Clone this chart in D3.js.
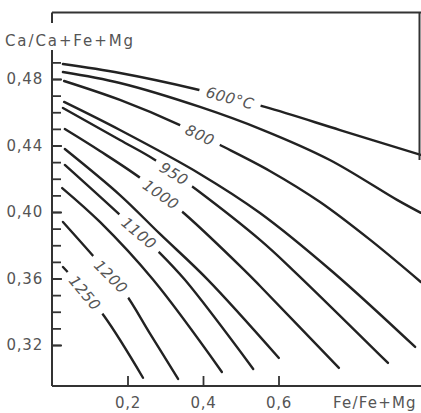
<!DOCTYPE html>
<html>
<head>
<meta charset="utf-8">
<script src="https://cdn.jsdelivr.net/npm/d3@7"></script>
<style>
  html, body { margin: 0; padding: 0; background: #fff; }
  svg { display: block; }
  text { font-family: "DejaVu Sans", sans-serif; }
</style>
</head>
<body>
<svg id="chart" width="421" height="413"></svg>
<script>
// Isotherms: Ca/(Ca+Fe+Mg) against Fe/(Fe+Mg), one [x, y] list per temperature (°C)
const iso600  = [[0.029,0.4890],[0.180,0.4836],[0.379,0.4740],[0.564,0.4632],[0.763,0.4493],[0.977,0.4343]];
const iso700  = [[0.029,0.4842],[0.180,0.4776],[0.392,0.4632],[0.559,0.4493],[0.736,0.4313],[0.914,0.4073],[0.977,0.3995]];
const iso800  = [[0.032,0.4788],[0.180,0.4674],[0.339,0.4523],[0.445,0.4403],[0.577,0.4247],[0.710,0.4060],[0.843,0.3832],[0.977,0.3579]];
const iso900  = [[0.032,0.4662],[0.180,0.4493],[0.392,0.4229],[0.551,0.3994],[0.744,0.3639],[0.962,0.3188]];
const iso950  = [[0.029,0.4626],[0.180,0.4433],[0.273,0.4313],[0.384,0.4132],[0.551,0.3832],[0.638,0.3651],[0.890,0.3092]];
const iso1000 = [[0.034,0.4499],[0.127,0.4367],[0.241,0.4193],[0.352,0.3988],[0.506,0.3658],[0.551,0.3555],[0.760,0.3062]];
const iso1050 = [[0.034,0.4379],[0.180,0.4102],[0.286,0.3868],[0.413,0.3592],[0.601,0.3122]];
const iso1100 = [[0.034,0.4283],[0.180,0.3982],[0.278,0.3771],[0.352,0.3592],[0.533,0.3056]];
const iso1150 = [[0.027,0.4144],[0.127,0.3940],[0.268,0.3592],[0.450,0.3038]];
const iso1200 = [[0.029,0.3940],[0.114,0.3723],[0.191,0.3520],[0.260,0.3267],[0.334,0.2996]];
const iso1250 = [[0.029,0.3669],[0.048,0.3622],[0.138,0.3374],[0.241,0.3003]];

const temperatures = [600, 700, 800, 900, 950, 1000, 1050, 1100, 1150, 1200, 1250];
const isoPoints = [iso600, iso700, iso800, iso900, iso950, iso1000, iso1050, iso1100, iso1150, iso1200, iso1250];

// Inline curve labels: temperature, text, and where along the curve (x) they sit
const labelTemps  = [600, 800, 950, 1000, 1100, 1200, 1250];
const labelTexts  = ["600°C", "800", "950", "1000", "1100", "1200", "1250"];
const labelAtX    = [0.4715, 0.392, 0.3232, 0.2887, 0.2305, 0.1563, 0.0874];
const labelAngles = [15, 25, 32, 35, 40, 45, 50];

// Axis ticks
const yMinorTicks = d3.range(32, 50).map(v => v / 100);
const yMajorTicks = [0.48, 0.44, 0.40, 0.36, 0.32];
const yTickLabels = ["0,48", "0,44", "0,40", "0,36", "0,32"];
const xTicks = [0.2, 0.4, 0.6];
const xTickLabels = ["0,2", "0,4", "0,6"];

const svg = d3.select("#chart");
const W = 421, H = 413;

const x = d3.scaleLinear().domain([0, 1]).range([52, 429.5]);
const y = d3.scaleLinear().domain([0.32, 0.48]).range([345, 79]);

const axisColor = "#333";
const inkColor = "#222";
const textColor = "#555";

const defs = svg.append("defs");

// Label placement on a curve: linear interpolation of y at given x
function yOnCurve(pts, xv) {
  for (let i = 0; i < pts.length - 1; i++) {
    if (xv >= pts[i][0] && xv <= pts[i + 1][0]) {
      const t = (xv - pts[i][0]) / (pts[i + 1][0] - pts[i][0]);
      return pts[i][1] + t * (pts[i + 1][1] - pts[i][1]);
    }
  }
  return pts[pts.length - 1][1];
}

// Labels layer (drawn first to measure text, curves are masked around them)
const labelG = svg.append("g").attr("class", "labels");
const labels = labelTemps.map((t, i) => {
  const pts = isoPoints[temperatures.indexOf(t)];
  const cx = x(labelAtX[i]);
  const cy = y(yOnCurve(pts, labelAtX[i]));
  const txt = labelG.append("text")
    .attr("transform", `translate(${cx},${cy}) rotate(${labelAngles[i]})`)
    .attr("text-anchor", "middle")
    .attr("dy", "0.36em")
    .attr("font-size", 15)
    .attr("font-style", "italic")
    .attr("letter-spacing", 0.5)
    .attr("fill", textColor)
    .text(labelTexts[i]);
  const len = txt.node().getComputedTextLength();
  return { t, cx, cy, angle: labelAngles[i], len };
});

// One mask per labelled curve, cutting a gap where its label sits
labels.forEach(l => {
  const m = defs.append("mask").attr("id", "gap" + l.t)
    .attr("maskUnits", "userSpaceOnUse")
    .attr("x", 0).attr("y", 0).attr("width", W).attr("height", H);
  m.append("rect").attr("x", 0).attr("y", 0).attr("width", W).attr("height", H).attr("fill", "#fff");
  const pad = 7;
  m.append("rect")
    .attr("x", -l.len / 2 - pad).attr("y", -9)
    .attr("width", l.len + 2 * pad).attr("height", 18)
    .attr("transform", `translate(${l.cx},${l.cy}) rotate(${l.angle})`)
    .attr("fill", "#000");
});

// Isotherm curves
const line = d3.line()
  .x(d => x(d[0]))
  .y(d => y(d[1]))
  .curve(d3.curveCatmullRom.alpha(0.5));

svg.append("g").attr("class", "isotherms")
  .selectAll("path")
  .data(temperatures.map((t, i) => ({ t, pts: isoPoints[i] })))
  .join("path")
  .attr("d", d => line(d.pts))
  .attr("fill", "none")
  .attr("stroke", inkColor)
  .attr("stroke-width", 2.4)
  .attr("stroke-linecap", "round")
  .attr("mask", d => labelTemps.includes(d.t) ? `url(#gap${d.t})` : null);

// Frame: left axis (broken by its title), top edge, upper right edge, bottom axis
const frame = svg.append("g").attr("stroke", axisColor).attr("stroke-width", 2).attr("fill", "none");
frame.append("line").attr("x1", x(0)).attr("x2", x(0)).attr("y1", 50).attr("y2", 386);
frame.append("line").attr("x1", x(0)).attr("x2", x(0)).attr("y1", y(0.52)).attr("y2", 23);
frame.append("line").attr("x1", x(0)).attr("x2", W).attr("y1", y(0.52)).attr("y2", y(0.52));
frame.append("line").attr("x1", 419.5).attr("x2", 419.5).attr("y1", y(0.52)).attr("y2", 160);
frame.append("line").attr("x1", x(0)).attr("x2", W).attr("y1", 386).attr("y2", 386);

// Y axis: minor ticks every 0.01, labelled major ticks
const yMinor = svg.append("g").attr("transform", `translate(${x(0)},0)`)
  .call(d3.axisLeft(y).tickValues(yMinorTicks).tickSizeInner(-9).tickSizeOuter(0).tickFormat(""));
yMinor.select(".domain").remove();
yMinor.selectAll("line").attr("stroke", axisColor).attr("stroke-width", 1.8);

const yMajor = svg.append("g").attr("transform", `translate(${x(0)},0)`)
  .call(d3.axisLeft(y).tickValues(yMajorTicks).tickSizeInner(-10).tickSizeOuter(0).tickPadding(9)
    .tickFormat((d, i) => yTickLabels[i]));
yMajor.select(".domain").remove();
yMajor.selectAll("line").attr("stroke", axisColor).attr("stroke-width", 1.8);
yMajor.selectAll("text")
  .attr("font-family", "DejaVu Sans, sans-serif")
  .attr("font-size", 15).attr("letter-spacing", 0.8).attr("fill", textColor);

// X axis ticks point up into the plot, labels below
const xAxis = svg.append("g").attr("transform", "translate(0,386)")
  .call(d3.axisBottom(x).tickValues(xTicks).tickSizeInner(-10).tickSizeOuter(0).tickPadding(11)
    .tickFormat((d, i) => xTickLabels[i]));
xAxis.select(".domain").remove();
xAxis.selectAll("line").attr("stroke", axisColor).attr("stroke-width", 1.8);
xAxis.selectAll("text")
  .attr("font-family", "DejaVu Sans, sans-serif")
  .attr("font-size", 15).attr("letter-spacing", 0.8).attr("fill", textColor);

// Axis titles
svg.append("text")
  .attr("x", 5).attr("y", 46)
  .attr("font-size", 15).attr("letter-spacing", 1.9).attr("fill", textColor)
  .text("Ca/Ca+Fe+Mg");
svg.append("text")
  .attr("x", 333).attr("y", 408)
  .attr("font-size", 15).attr("letter-spacing", 1.2).attr("fill", textColor)
  .text("Fe/Fe+Mg");
</script>
</body>
</html>
